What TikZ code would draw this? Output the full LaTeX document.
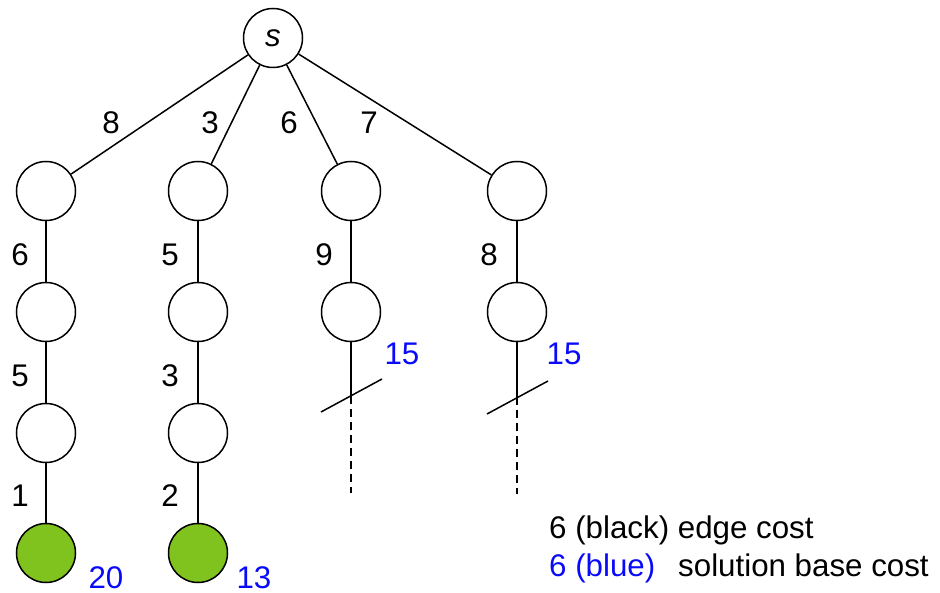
\documentclass[tikz,border=0pt]{standalone}
\usepackage{fontspec}
\setmainfont{Liberation Sans}
\definecolor{leafgreen}{RGB}{128,194,30}
\definecolor{costblue}{RGB}{10,10,250}
\begin{document}
\begin{tikzpicture}[x=1pt,y=-1pt,
  treenode/.style={circle,draw=black,line width=1.5pt,fill=white,minimum size=59pt,inner sep=0pt},
  goalnode/.style={treenode,fill=leafgreen},
  edgelbl/.style={font=\fontsize{31.3}{36}\selectfont,inner sep=0pt,text=black},
  bluelbl/.style={font=\fontsize{31.3}{36}\selectfont,inner sep=0pt,text=costblue},
  edgeline/.style={line width=1.5pt,black},
  cutline/.style={line width=1.5pt,black},
  dashline/.style={line width=1.5pt,black,dash pattern=on 8pt off 5pt}]
\useasboundingbox (0,0) rectangle (940,593);
% nodes
\node[treenode,font=\fontsize{31.3}{36}\selectfont\itshape] (s) at (273,38) {s};
\node[treenode] (a1) at (46,191) {};
\node[treenode] (b1) at (198,191) {};
\node[treenode] (c1) at (351,191) {};
\node[treenode] (d1) at (517,191) {};
\node[treenode] (a2) at (46,312) {};
\node[treenode] (b2) at (198,312) {};
\node[treenode] (c2) at (351,312) {};
\node[treenode] (d2) at (517,312) {};
\node[treenode] (a3) at (46,433) {};
\node[treenode] (b3) at (198,433) {};
\node[goalnode] (a4) at (46,553) {};
\node[goalnode] (b4) at (198,553) {};
% cut coordinates
\coordinate (cx) at (351,396);
\coordinate (cxe) at (351,493);
\coordinate (cl) at (321,412);
\coordinate (cr) at (382,379);
\coordinate (dx) at (517,397);
\coordinate (dxe) at (517,494);
\coordinate (dl) at (487,414);
\coordinate (dr) at (548,381);
% edges
\draw[edgeline] (s) -- (a1);
\draw[edgeline] (s) -- (b1);
\draw[edgeline] (s) -- (c1);
\draw[edgeline] (s) -- (d1);
\draw[edgeline] (a1) -- (a2);
\draw[edgeline] (b1) -- (b2);
\draw[edgeline] (c1) -- (c2);
\draw[edgeline] (d1) -- (d2);
\draw[edgeline] (a2) -- (a3);
\draw[edgeline] (b2) -- (b3);
\draw[edgeline] (a3) -- (a4);
\draw[edgeline] (b3) -- (b4);
\draw[edgeline] (c2) -- (cx);
\draw[edgeline] (d2) -- (dx);
\draw[dashline] (cx) -- (cxe);
\draw[dashline] (dx) -- (dxe);
\draw[cutline] (cl) -- (cr);
\draw[cutline] (dl) -- (dr);
% edge labels
\node[edgelbl] (l1) at (111,123) {8};
\node[edgelbl] (l2) at (210,123) {3};
\node[edgelbl] (l3) at (289,123) {6};
\node[edgelbl] (l4) at (369,123) {7};
\node[edgelbl] (l5) at (20,255) {6};
\node[edgelbl] (l6) at (170,255) {5};
\node[edgelbl] (l7) at (324,255) {9};
\node[edgelbl] (l8) at (489,255) {8};
\node[edgelbl] (l9) at (20,376) {5};
\node[edgelbl] (l10) at (170,376) {3};
\node[edgelbl] (l11) at (20,496) {1};
\node[edgelbl] (l12) at (170,496) {2};
% blue costs
\node[bluelbl] (v1) at (402,354) {15};
\node[bluelbl] (v2) at (564,354) {15};
\node[bluelbl] (v3) at (106,578) {20};
\node[bluelbl] (v4) at (254,578) {13};
% legend
\node[edgelbl,anchor=base west] (leg1) at (549,538) {6 (black) edge cost};
\node[bluelbl,anchor=base west] (leg2) at (549,576) {6 (blue)};
\node[edgelbl,anchor=base west] (leg3) at (678,576) {solution base cost};
\end{tikzpicture}
\end{document}
